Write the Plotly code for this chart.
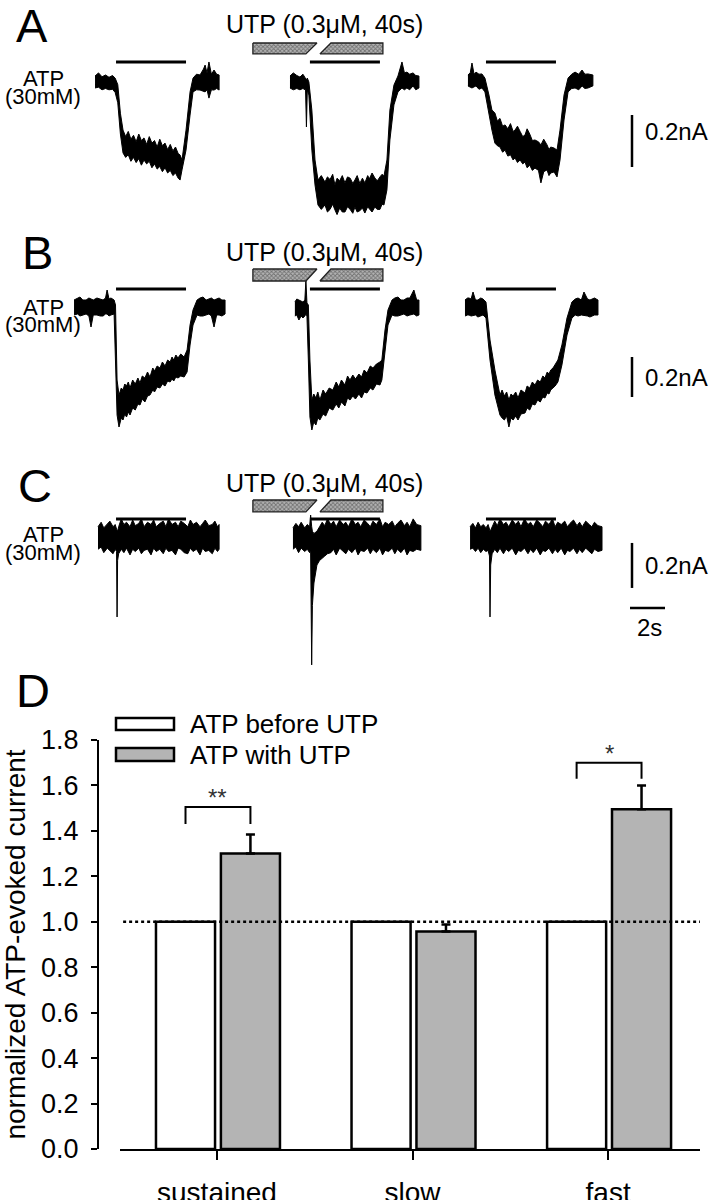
import plotly.graph_objects as go

FONT = "Liberation Sans, Arial, Helvetica, sans-serif"

# ===================== Panels A-C : ATP-evoked current traces =====================
# time (s) relative to the ATP onset of each sweep; current (nA): upper / lower edge of the noisy trace
A1_t  = [-1.2, -1.0, -0.8, -0.6, -0.4, -0.2, -0.05, 0.1, 0.25, 0.4, 0.55, 0.7, 0.85, 1.0, 1.15, 1.3, 1.45, 1.6, 1.75, 1.9, 2.05, 2.2, 2.35, 2.5, 2.65, 2.8, 2.95, 3.1, 3.25, 3.4, 3.55, 3.66, 3.77, 4.0, 4.23, 4.4, 4.6, 4.8, 5.0, 5.09, 5.2, 5.31, 5.45, 5.6, 5.75, 5.89]
A1_up = [0.023, 0.035, 0.02, 0.027, 0.018, 0.025, 0.015, -0.01, -0.12, -0.185, -0.21, -0.19, -0.22, -0.205, -0.23, -0.2, -0.225, -0.215, -0.24, -0.21, -0.235, -0.225, -0.25, -0.22, -0.245, -0.235, -0.26, -0.24, -0.265, -0.25, -0.275, -0.281, -0.3, -0.185, -0.038, 0.015, 0.03, 0.027, 0.05, 0.065, 0.035, 0.077, 0.03, 0.046, 0.03, 0.027]
A1_lo = [-0.023, -0.02, -0.03, -0.025, -0.03, -0.028, -0.04, -0.08, -0.2, -0.273, -0.29, -0.28, -0.305, -0.29, -0.31, -0.295, -0.32, -0.3, -0.315, -0.305, -0.33, -0.315, -0.335, -0.325, -0.345, -0.33, -0.35, -0.34, -0.36, -0.35, -0.37, -0.377, -0.338, -0.262, -0.127, -0.038, -0.03, -0.031, -0.035, -0.038, -0.03, -0.062, -0.03, -0.031, -0.025, -0.031]

A2_t  = [-1.14, -0.95, -0.75, -0.57, -0.4, -0.25, -0.2, -0.15, -0.06, 0.11, 0.29, 0.46, 0.65, 0.86, 1.0, 1.15, 1.3, 1.43, 1.55, 1.7, 1.85, 2.0, 2.15, 2.3, 2.45, 2.57, 2.7, 2.85, 3.0, 3.14, 3.3, 3.4, 3.55, 3.71, 3.85, 4.0, 4.12, 4.23, 4.4, 4.57, 4.8, 5.03, 5.26, 5.4, 5.54, 5.7, 5.89, 6.05, 6.23]
A2_up = [0.023, 0.035, 0.025, 0.019, 0.03, 0.015, 0.008, 0.015, 0.0, -0.108, -0.3, -0.377, -0.36, -0.385, -0.365, -0.375, -0.355, -0.396, -0.37, -0.38, -0.36, -0.388, -0.365, -0.37, -0.39, -0.377, -0.36, -0.39, -0.37, -0.388, -0.36, -0.372, -0.35, -0.369, -0.38, -0.365, -0.355, -0.362, -0.3, -0.108, -0.012, 0.023, 0.077, 0.035, 0.038, 0.03, 0.035, 0.025, 0.023]
A2_lo = [-0.023, -0.03, -0.025, -0.03, -0.025, -0.031, -0.173, -0.031, -0.05, -0.262, -0.396, -0.473, -0.49, -0.473, -0.5, -0.49, -0.47, -0.492, -0.51, -0.485, -0.5, -0.5, -0.48, -0.49, -0.505, -0.481, -0.5, -0.495, -0.485, -0.504, -0.48, -0.49, -0.5, -0.481, -0.49, -0.49, -0.47, -0.473, -0.415, -0.223, -0.088, -0.038, -0.023, -0.03, -0.023, -0.03, -0.015, -0.03, -0.023]

A3_t  = [-1.03, -0.9, -0.8, -0.68, -0.57, -0.4, -0.23, -0.06, 0.17, 0.34, 0.51, 0.65, 0.8, 0.95, 1.09, 1.25, 1.4, 1.55, 1.66, 1.8, 1.95, 2.1, 2.23, 2.35, 2.5, 2.65, 2.8, 3.0, 3.14, 3.3, 3.49, 3.6, 3.7, 3.89, 4.06, 4.23, 4.46, 4.69, 4.9, 5.09, 5.3, 5.49, 5.65, 5.83, 6.11]
A3_up = [0.027, 0.035, 0.073, 0.03, 0.038, 0.03, 0.031, 0.015, -0.05, -0.108, -0.119, -0.15, -0.14, -0.17, -0.165, -0.18, -0.16, -0.19, -0.185, -0.17, -0.19, -0.21, -0.204, -0.18, -0.2, -0.225, -0.223, -0.23, -0.242, -0.22, -0.242, -0.26, -0.25, -0.254, -0.262, -0.185, -0.05, 0.015, 0.03, 0.038, 0.03, 0.046, 0.03, 0.031, 0.027]
A3_lo = [-0.015, -0.02, -0.023, -0.02, -0.015, -0.028, -0.023, -0.038, -0.115, -0.185, -0.235, -0.245, -0.25, -0.27, -0.262, -0.285, -0.28, -0.3, -0.292, -0.31, -0.3, -0.315, -0.308, -0.33, -0.32, -0.34, -0.331, -0.34, -0.388, -0.345, -0.338, -0.36, -0.35, -0.346, -0.365, -0.3, -0.146, -0.038, -0.025, -0.023, -0.03, -0.015, -0.025, -0.023, -0.015]

B1_t  = [-2.4, -2.2, -2.06, -1.9, -1.71, -1.55, -1.43, -1.3, -1.09, -0.9, -0.74, -0.6, -0.51, -0.4, -0.29, -0.11, -0.03, 0.06, 0.17, 0.3, 0.4, 0.5, 0.6, 0.7, 0.8, 0.95, 1.1, 1.25, 1.37, 1.5, 1.65, 1.8, 1.94, 2.1, 2.2, 2.35, 2.51, 2.65, 2.8, 2.95, 3.09, 3.2, 3.3, 3.42, 3.54, 3.7, 3.89, 4.06, 4.23, 4.4, 4.63, 4.8, 4.97, 5.15, 5.31, 5.45, 5.6, 5.75, 5.89, 6.05, 6.23]
B1_up = [0.04, 0.05, 0.055, 0.04, 0.04, 0.05, 0.045, 0.04, 0.05, 0.045, 0.04, 0.05, 0.09, 0.045, 0.05, 0.04, 0.015, -0.36, -0.435, -0.4, -0.41, -0.38, -0.39, -0.37, -0.4, -0.36, -0.38, -0.35, -0.375, -0.34, -0.35, -0.32, -0.345, -0.3, -0.315, -0.29, -0.3, -0.27, -0.29, -0.26, -0.27, -0.245, -0.26, -0.235, -0.25, -0.23, -0.245, -0.21, -0.085, -0.01, 0.04, 0.05, 0.055, 0.04, 0.045, 0.05, 0.04, 0.045, 0.05, 0.04, 0.04]
B1_lo = [-0.035, -0.03, -0.04, -0.035, -0.03, -0.04, -0.095, -0.035, -0.035, -0.04, -0.04, -0.03, -0.03, -0.04, -0.035, -0.03, -0.26, -0.535, -0.595, -0.55, -0.56, -0.53, -0.545, -0.52, -0.535, -0.5, -0.51, -0.48, -0.485, -0.455, -0.47, -0.44, -0.435, -0.41, -0.42, -0.395, -0.4, -0.38, -0.39, -0.365, -0.37, -0.355, -0.365, -0.345, -0.35, -0.34, -0.345, -0.32, -0.185, -0.085, -0.035, -0.04, -0.04, -0.035, -0.03, -0.04, -0.095, -0.035, -0.035, -0.04, -0.03]

B2_t  = [-0.86, -0.75, -0.63, -0.5, -0.4, -0.29, -0.23, -0.17, -0.09, 0.0, 0.11, 0.22, 0.34, 0.45, 0.57, 0.75, 0.9, 1.1, 1.31, 1.5, 1.65, 1.8, 2.0, 2.15, 2.29, 2.45, 2.6, 2.8, 2.95, 3.1, 3.26, 3.45, 3.6, 3.8, 4.0, 4.11, 4.29, 4.46, 4.69, 4.85, 5.03, 5.2, 5.37, 5.55, 5.71, 5.94, 6.1, 6.23]
B2_up = [0.03, 0.045, 0.04, 0.035, 0.03, 0.04, 0.14, 0.025, 0.015, -0.26, -0.46, -0.43, -0.45, -0.42, -0.46, -0.41, -0.43, -0.4, -0.41, -0.37, -0.395, -0.36, -0.385, -0.34, -0.36, -0.335, -0.355, -0.33, -0.345, -0.31, -0.325, -0.29, -0.3, -0.28, -0.27, -0.26, -0.11, -0.01, 0.04, 0.05, 0.055, 0.04, 0.04, 0.05, 0.05, 0.09, 0.04, 0.04]
B2_lo = [-0.04, -0.035, -0.06, -0.04, -0.05, -0.04, -0.03, -0.04, -0.26, -0.545, -0.61, -0.57, -0.585, -0.55, -0.56, -0.53, -0.54, -0.5, -0.51, -0.48, -0.5, -0.47, -0.49, -0.45, -0.46, -0.44, -0.455, -0.43, -0.45, -0.42, -0.425, -0.4, -0.41, -0.38, -0.385, -0.36, -0.235, -0.085, -0.035, -0.04, -0.04, -0.035, -0.03, -0.04, -0.035, -0.03, -0.04, -0.035]

B3_t  = [-1.2, -1.05, -0.97, -0.85, -0.74, -0.6, -0.46, -0.3, -0.17, 0.0, 0.23, 0.51, 0.8, 0.92, 1.05, 1.18, 1.31, 1.43, 1.55, 1.7, 1.83, 2.0, 2.23, 2.35, 2.5, 2.65, 2.8, 2.95, 3.1, 3.25, 3.37, 3.5, 3.6, 3.7, 3.83, 3.95, 4.11, 4.34, 4.63, 4.91, 5.1, 5.26, 5.45, 5.6, 5.8, 5.94, 6.2, 6.4]
B3_up = [0.04, 0.05, 0.05, 0.045, 0.08, 0.04, 0.04, 0.05, 0.045, 0.03, -0.16, -0.31, -0.435, -0.41, -0.44, -0.42, -0.46, -0.43, -0.44, -0.42, -0.45, -0.41, -0.425, -0.39, -0.4, -0.37, -0.385, -0.36, -0.37, -0.34, -0.35, -0.32, -0.33, -0.31, -0.3, -0.28, -0.26, -0.185, -0.05, 0.03, 0.045, 0.05, 0.04, 0.08, 0.045, 0.04, 0.05, 0.04]
B3_lo = [-0.04, -0.035, -0.035, -0.04, -0.04, -0.035, -0.045, -0.04, -0.035, -0.05, -0.26, -0.435, -0.535, -0.55, -0.56, -0.54, -0.595, -0.55, -0.56, -0.54, -0.56, -0.53, -0.525, -0.5, -0.51, -0.48, -0.485, -0.46, -0.47, -0.445, -0.45, -0.425, -0.43, -0.41, -0.4, -0.39, -0.37, -0.285, -0.135, -0.05, -0.035, -0.04, -0.035, -0.035, -0.04, -0.045, -0.035, -0.035]

C1_t  = [-1.03, -0.85, -0.7, -0.5, -0.35, -0.17, -0.05, 0.03, 0.06, 0.09, 0.15, 0.3, 0.45, 0.6, 0.8, 0.95, 1.1, 1.3, 1.45, 1.6, 1.8, 2.0, 2.15, 2.3, 2.5, 2.7, 2.85, 3.0, 3.2, 3.4, 3.55, 3.7, 3.9, 4.1, 4.25, 4.4, 4.6, 4.8, 4.95, 5.1, 5.3, 5.5, 5.65, 5.8, 5.89]
C1_up = [0.05, 0.07, 0.045, 0.06, 0.075, 0.05, 0.06, 0.04, 0.03, 0.03, 0.05, 0.085, 0.06, 0.07, 0.05, 0.08, 0.055, 0.065, 0.085, 0.05, 0.07, 0.06, 0.08, 0.05, 0.065, 0.075, 0.05, 0.085, 0.06, 0.07, 0.05, 0.075, 0.065, 0.05, 0.08, 0.06, 0.07, 0.05, 0.065, 0.08, 0.055, 0.06, 0.075, 0.05, 0.06]
C1_lo = [-0.05, -0.04, -0.065, -0.045, -0.055, -0.07, -0.05, -0.06, -0.351, -0.1, -0.07, -0.05, -0.065, -0.045, -0.075, -0.05, -0.06, -0.045, -0.07, -0.055, -0.05, -0.075, -0.045, -0.06, -0.05, -0.07, -0.045, -0.06, -0.055, -0.075, -0.045, -0.05, -0.065, -0.07, -0.045, -0.06, -0.05, -0.075, -0.045, -0.06, -0.055, -0.07, -0.045, -0.06, -0.05]

C2_t  = [-0.97, -0.8, -0.65, -0.5, -0.3, -0.15, -0.02, 0.04, 0.1, 0.14, 0.23, 0.4, 0.55, 0.7, 0.85, 1.0, 1.2, 1.35, 1.5, 1.7, 1.9, 2.05, 2.2, 2.4, 2.6, 2.75, 2.9, 3.1, 3.3, 3.45, 3.6, 3.8, 4.0, 4.15, 4.3, 4.5, 4.7, 4.85, 5.0, 5.2, 5.4, 5.55, 5.7, 5.9, 6.1, 6.34]
C2_up = [0.045, 0.065, 0.05, 0.07, 0.045, 0.06, 0.05, 0.102, 0.05, 0.03, 0.02, 0.03, 0.05, 0.07, 0.055, 0.085, 0.06, 0.075, 0.05, 0.08, 0.06, 0.07, 0.05, 0.085, 0.06, 0.07, 0.05, 0.08, 0.065, 0.05, 0.075, 0.06, 0.085, 0.05, 0.07, 0.06, 0.075, 0.05, 0.065, 0.08, 0.055, 0.07, 0.05, 0.085, 0.06, 0.055]
C2_lo = [-0.05, -0.04, -0.065, -0.045, -0.06, -0.05, -0.065, -0.06, -0.564, -0.3, -0.2, -0.12, -0.1, -0.09, -0.08, -0.07, -0.065, -0.05, -0.075, -0.045, -0.06, -0.07, -0.05, -0.065, -0.045, -0.075, -0.055, -0.06, -0.045, -0.07, -0.05, -0.065, -0.045, -0.075, -0.055, -0.06, -0.045, -0.07, -0.05, -0.065, -0.045, -0.075, -0.055, -0.06, -0.05, -0.055]

C3_t  = [-0.91, -0.75, -0.6, -0.45, -0.3, -0.15, 0.0, 0.12, 0.2, 0.23, 0.27, 0.35, 0.5, 0.65, 0.8, 1.0, 1.15, 1.3, 1.5, 1.7, 1.85, 2.0, 2.2, 2.4, 2.55, 2.7, 2.9, 3.1, 3.25, 3.4, 3.6, 3.8, 3.95, 4.1, 4.3, 4.5, 4.65, 4.8, 5.0, 5.2, 5.35, 5.5, 5.7, 5.9, 6.05, 6.2, 6.4, 6.63]
C3_up = [0.05, 0.065, 0.045, 0.07, 0.05, 0.06, 0.045, 0.06, 0.04, 0.03, 0.035, 0.05, 0.075, 0.055, 0.085, 0.06, 0.07, 0.05, 0.08, 0.06, 0.075, 0.05, 0.085, 0.06, 0.07, 0.05, 0.08, 0.065, 0.05, 0.075, 0.06, 0.085, 0.05, 0.07, 0.06, 0.075, 0.05, 0.065, 0.08, 0.055, 0.07, 0.05, 0.075, 0.06, 0.05, 0.07, 0.055, 0.05]
C3_lo = [-0.05, -0.045, -0.06, -0.045, -0.065, -0.05, -0.06, -0.055, -0.08, -0.351, -0.12, -0.07, -0.05, -0.065, -0.045, -0.07, -0.05, -0.06, -0.045, -0.075, -0.055, -0.06, -0.045, -0.07, -0.05, -0.065, -0.045, -0.075, -0.055, -0.06, -0.045, -0.07, -0.05, -0.065, -0.045, -0.075, -0.055, -0.06, -0.045, -0.07, -0.05, -0.065, -0.045, -0.06, -0.07, -0.05, -0.06, -0.055]

sweep_onset_s = [6.63, 17.71, 27.77]      # ATP onsets of the three sweeps on the time axis
atp_duration_s = 4.0
utp_box1_t = [-3.26, 0.40, -0.23]          # left, top-right, bottom-right (rel. to 2nd sweep onset)
utp_box2_t = [0.57, 1.20, 4.17]            # bottom-left, top-left, right
panel_letters = ["A", "B", "C"]
utp_text = "UTP (0.3μM, 40s)"
atp_text = ["ATP", "(30mM)"]
scale_current_nA = 0.2
scale_time_s = 2.0

# ===================== Panel D : bar chart =====================
categories = ["sustained", "slow", "fast"]
atp_before = [1.0, 1.0, 1.0]
atp_with = [1.30, 0.957, 1.495]
atp_with_sem = [0.084, 0.031, 0.105]
sig_labels = ["**", "", "*"]
sig_top = [1.505, None, 1.70]
sig_leg = [1.43, None, 1.63]
legend_names = ["ATP before UTP", "ATP with UTP"]
y_title = "normalized ATP-evoked current"

# ===================== layout helpers =====================
W, H = 712, 1200
def px(c):
    return c / W
def py(r):
    return 1 - r / H

PX_PER_S = 17.5
panel_cfg = [
    dict(ax="y",  base=82,  gain=260, atp=0.077, utp=(0.150, 0.108), scale=-0.127, letter_row=25,
         utp_row=24, atp_rows=(79, 97), nA_row=132),
    dict(ax="y2", base=308, gain=200, atp=0.095, utp=(0.195, 0.135), scale=-0.245, letter_row=253,
         utp_row=252, atp_rows=(307, 325), nA_row=377),
    dict(ax="y3", base=538, gain=225, atp=0.084, utp=(0.169, 0.116), scale=-0.022, letter_row=485,
         utp_row=483, atp_rows=(534, 552), nA_row=565),
]
sweeps = [
    [(A1_t, A1_up, A1_lo), (A2_t, A2_up, A2_lo), (A3_t, A3_up, A3_lo)],
    [(B1_t, B1_up, B1_lo), (B2_t, B2_up, B2_lo), (B3_t, B3_up, B3_lo)],
    [(C1_t, C1_up, C1_lo), (C2_t, C2_up, C2_lo), (C3_t, C3_up, C3_lo)],
]
letter_cols = [32, 37, 35]

def text(t, c, r, size, xanchor="center", color="black"):
    return dict(text=t, x=px(c), y=py(r), xref="paper", yref="paper", xanchor=xanchor,
                yanchor="middle", showarrow=False, font=dict(family=FONT, size=size, color=color))

fig = go.Figure()
shapes = []
annotations = []

for p, cfg in enumerate(panel_cfg):
    yax = cfg["ax"]
    for k, (t, up, lo) in enumerate(sweeps[p]):
        x = [sweep_onset_s[k] + v for v in t]
        fig.add_trace(go.Scatter(
            x=x + x[::-1], y=up + lo[::-1], mode="lines", fill="toself",
            fillcolor="black", line=dict(color="black", width=1),
            xaxis="x", yaxis=yax, hoverinfo="skip", showlegend=False))
        shapes.append(dict(type="line", xref="x", yref=yax,
                           x0=sweep_onset_s[k], x1=sweep_onset_s[k] + atp_duration_s,
                           y0=cfg["atp"], y1=cfg["atp"], line=dict(color="black", width=3)))
    top, bot = cfg["utp"]
    on = sweep_onset_s[1]
    bx1 = [on + utp_box1_t[0], on + utp_box1_t[1], on + utp_box1_t[2], on + utp_box1_t[0], on + utp_box1_t[0]]
    by1 = [top, top, bot, bot, top]
    bx2 = [on + utp_box2_t[0], on + utp_box2_t[1], on + utp_box2_t[2], on + utp_box2_t[2], on + utp_box2_t[0]]
    by2 = [bot, top, top, bot, bot]
    for bx, by in ((bx1, by1), (bx2, by2)):
        fig.add_trace(go.Scatter(
            x=bx, y=by, mode="lines", fill="toself", fillcolor="#8c8c8c",
            fillpattern=dict(shape="x", fgcolor="#2e2e2e", bgcolor="#b4b4b4", size=3, solidity=0.5),
            line=dict(color="#222222", width=1.3), xaxis="x", yaxis=yax,
            hoverinfo="skip", showlegend=False))
    s0 = cfg["scale"]
    shapes.append(dict(type="line", xref="x", yref=yax, x0=632 / PX_PER_S, x1=632 / PX_PER_S,
                       y0=s0, y1=s0 - scale_current_nA, line=dict(color="black", width=2.5)))
    annotations.append(text(panel_letters[p], letter_cols[p], cfg["letter_row"], 47))
    annotations.append(text(utp_text, 324.5, cfg["utp_row"], 25))
    for j, txt in enumerate(atp_text):
        annotations.append(text(txt, 43, cfg["atp_rows"][j], 22))
    annotations.append(text("%.1fnA" % scale_current_nA, 643, cfg["nA_row"], 24, xanchor="left"))

shapes.append(dict(type="line", xref="x", yref="y3", x0=36.0, x1=36.0 + scale_time_s,
                   y0=-0.311, y1=-0.311, line=dict(color="black", width=2.5)))
annotations.append(text("%ds" % scale_time_s, 649, 627, 24))

# ---------------- Panel D ----------------
fig.add_trace(go.Bar(
    x=categories, y=atp_before, xaxis="x2", yaxis="y4", width=0.302, offset=-0.312,
    marker=dict(color="white", line=dict(color="black", width=2.5)),
    name=legend_names[0], showlegend=False, hoverinfo="skip"))
fig.add_trace(go.Bar(
    x=categories, y=atp_with, xaxis="x2", yaxis="y4", width=0.302, offset=0.02,
    marker=dict(color="#b4b4b4", line=dict(color="black", width=2.5)),
    error_y=dict(type="data", array=atp_with_sem, arrayminus=[0] * len(atp_with_sem), symmetric=False,
                 color="black", thickness=2.5, width=4.5),
    name=legend_names[1], showlegend=False, hoverinfo="skip"))

shapes.append(dict(type="line", xref="x2", yref="y4", x0=-0.48, x1=2.47, y0=1.0, y1=1.0,
                   line=dict(color="black", width=2.5, dash="dot"), layer="above"))
for i, lab in enumerate(sig_labels):
    if not lab:
        continue
    xa, xb = i - 0.161, i + 0.171
    shapes.append(dict(type="path", xref="x2", yref="y4",
                       path=f"M {xa},{sig_leg[i]} L {xa},{sig_top[i]} L {xb},{sig_top[i]} L {xb},{sig_leg[i]}",
                       line=dict(color="black", width=2)))
    annotations.append(dict(text=lab, x=i + 0.005, y=sig_top[i], xref="x2", yref="y4", yanchor="bottom",
                            xanchor="center", showarrow=False, yshift=-6,
                            font=dict(family=FONT, size=24, color="#333333")))

leg_rows = [(718, 730), (748, 761)]
leg_fill = ["white", "#b4b4b4"]
for j in range(2):
    shapes.append(dict(type="rect", xref="paper", yref="paper", x0=px(116), x1=px(174),
                       y0=py(leg_rows[j][1]), y1=py(leg_rows[j][0]), fillcolor=leg_fill[j],
                       line=dict(color="black", width=2.5)))
    annotations.append(text(legend_names[j], 188, sum(leg_rows[j]) / 2, 26, xanchor="left"))
annotations.append(text("D", 33, 690, 47))

def trace_yrange(cfg):
    return [-(H - cfg["base"]) / cfg["gain"], cfg["base"] / cfg["gain"]]

fig.update_layout(
    width=W, height=H, margin=dict(l=0, r=0, t=0, b=0, pad=0, autoexpand=False),
    paper_bgcolor="white", plot_bgcolor="white", showlegend=False,
    font=dict(family=FONT, color="black"),
    xaxis=dict(domain=[0, 1], range=[0, W / PX_PER_S], visible=False, anchor="y", automargin=False),
    yaxis=dict(domain=[0, 1], range=trace_yrange(panel_cfg[0]), visible=False, anchor="x", automargin=False),
    yaxis2=dict(overlaying="y", range=trace_yrange(panel_cfg[1]), visible=False, anchor="x", automargin=False),
    yaxis3=dict(overlaying="y", range=trace_yrange(panel_cfg[2]), visible=False, anchor="x", automargin=False),
    xaxis2=dict(domain=[px(120), px(700)], anchor="y4", range=[-0.496, 2.47], type="category",
                showline=True, linecolor="black", linewidth=2, ticks="outside", ticklen=9, tickwidth=2,
                tickcolor="black", showgrid=False, zeroline=False, ticklabelstandoff=8, automargin=False,
                tickfont=dict(family=FONT, size=28, color="black")),
    yaxis4=dict(domain=[py(1149), py(740)], anchor="free", position=px(98), range=[0, 1.8],
                dtick=0.2, tick0=0, tickformat=".1f", showline=True, linecolor="black", linewidth=2,
                ticks="outside", ticklen=6, tickwidth=2, tickcolor="black", showgrid=False,
                zeroline=False, ticklabelstandoff=7, automargin=False,
                tickfont=dict(family=FONT, size=27, color="black"),
                title=dict(text=y_title, standoff=8, font=dict(family=FONT, size=28, color="black"))),
    shapes=shapes, annotations=annotations,
)

fig.write_html("out.html", config={"displayModeBar": False, "staticPlot": True},
               post_script="document.body.style.margin='0px';document.body.style.padding='0px';document.body.style.overflow='hidden';")
